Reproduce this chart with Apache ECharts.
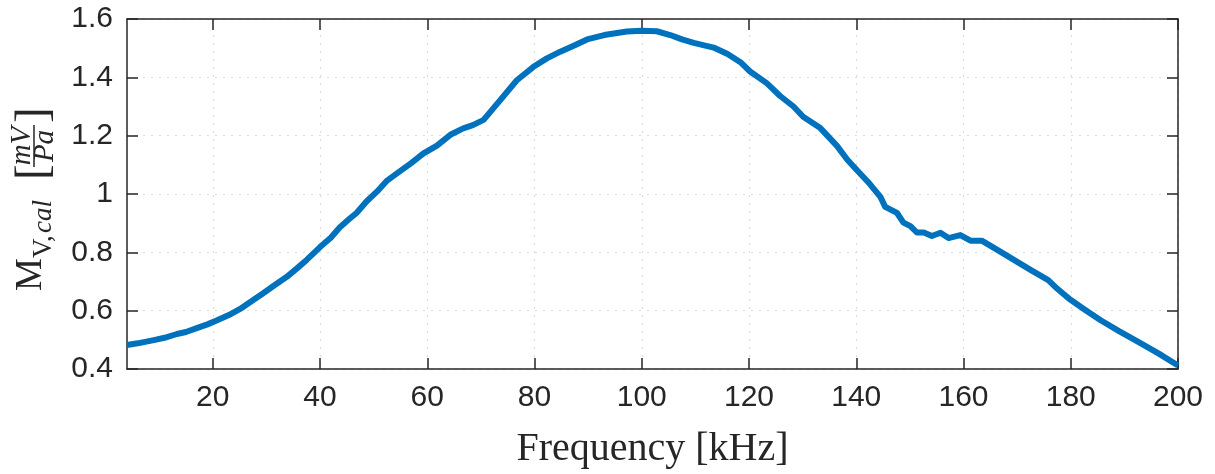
<!DOCTYPE html>
<html lang="en">
<head>
    <meta charset="UTF-8">
    <title>M_V,cal vs Frequency</title>
    <script src="https://cdn.jsdelivr.net/npm/echarts@6/dist/echarts.min.js"></script>
    <style>
        html, body { margin: 0; padding: 0; background: #fff; }
        #main { width: 1215px; height: 474px; }
    </style>
</head>
<body>
<div id="main"></div>
<script>
    // frequency in kHz
    var freq = [4, 6, 9, 11, 13.3, 15, 17, 19, 20.7, 23, 25.1, 27, 29.4, 31.5, 33.8, 35.7, 37.5, 40, 42, 43.7,
        45.5, 46.8, 48.7, 50.6, 52.5, 54.6, 57, 59.3, 61.8, 64.3, 66.7, 68.5, 70.5, 73.6, 76.7, 79.8, 82.3, 84.8,
        87.5, 89.8, 93, 97.2, 100, 102.8, 105.3, 107.5, 109.7, 113.4, 116, 118.4, 120.2, 123.3, 125.8, 128.3,
        130.1, 133.3, 136.4, 138.3, 140.1, 142.5, 144.5, 145.4, 147.6, 148.8, 150.1, 151.3, 152.6, 154.1, 155.7,
        157.2, 159.4, 161.3, 163.4, 166, 168.7, 172.5, 175.8, 177.5, 179.9, 182.5, 185.5, 189, 193, 196.5, 200];
    // sensitivity in mV/Pa
    var mv = [0.482, 0.488, 0.499, 0.507, 0.52, 0.527, 0.54, 0.553, 0.566, 0.585, 0.606, 0.63, 0.66, 0.687, 0.716, 0.745, 0.774, 0.818, 0.85, 0.886,
        0.915, 0.935, 0.975, 1.008, 1.046, 1.074, 1.106, 1.139, 1.166, 1.203, 1.225, 1.236, 1.254, 1.322, 1.39, 1.436, 1.465, 1.488,
        1.51, 1.53, 1.545, 1.557, 1.56, 1.558, 1.545, 1.53, 1.518, 1.502, 1.48, 1.452, 1.42, 1.38, 1.336, 1.3,
        1.265, 1.226, 1.165, 1.118, 1.082, 1.035, 0.99, 0.956, 0.935, 0.902, 0.89, 0.868, 0.868, 0.856, 0.867,
        0.849, 0.859, 0.84, 0.84, 0.812, 0.782, 0.74, 0.705, 0.675, 0.638, 0.605, 0.568, 0.53, 0.489, 0.452, 0.412];

    var xTicks = [20, 40, 60, 80, 100, 120, 140, 160, 180, 200];

    var txt = '#262626';
    var serif = '"Liberation Serif", "Times New Roman", serif';

    var myChart = echarts.init(document.getElementById('main'));

    function xAx(pos, labels) {
        return {
            type: 'value', position: pos, min: 4, max: 200,
            axisLine: { show: true, onZero: false, lineStyle: { color: txt, width: 1.5 } },
            axisTick: { show: true, inside: true, length: 11, customValues: xTicks, lineStyle: { color: txt, width: 1.5 } },
            axisLabel: { show: labels, customValues: xTicks, color: txt, fontFamily: '"Liberation Sans", Arial, sans-serif', fontSize: 30, margin: 14 },
            splitLine: { show: labels, customValues: xTicks, lineStyle: { color: '#dcdcdc', type: [2, 6], width: 1.2 } },
            name: labels ? 'Frequency [kHz]' : '',
            nameLocation: 'middle', nameGap: 60,
            nameTextStyle: { color: txt, fontFamily: serif, fontSize: 40 }
        };
    }
    function yAx(pos, labels) {
        return {
            type: 'value', position: pos, min: 0.4, max: 1.6, interval: 0.2,
            axisLine: { show: true, onZero: false, lineStyle: { color: txt, width: 1.5 } },
            axisTick: { show: true, inside: true, length: 11, lineStyle: { color: txt, width: 1.5 } },
            axisLabel: { show: labels, color: txt, fontFamily: '"Liberation Sans", Arial, sans-serif', fontSize: 30, margin: 14 },
            splitLine: { show: labels, lineStyle: { color: '#dcdcdc', type: [2, 6], width: 1.2 } }
        };
    }

    var data = freq.map(function (f, i) { return [f, mv[i]]; });

    var option = {
        backgroundColor: '#fff',
        animation: false,
        grid: { left: 127, right: 37, top: 19, bottom: 105 },
        xAxis: [xAx('bottom', true), xAx('top', false)],
        yAxis: [yAx('left', true), yAx('right', false)],
        series: [{
            type: 'line',
            data: data,
            showSymbol: false,
            lineStyle: { color: '#0072BD', width: 6, join: 'round' },
            itemStyle: { color: '#0072BD' }
        }],
        graphic: [{
            // rotated y-axis label: M_{V,cal} [mV/Pa]
            type: 'group', x: 38, y: 193, rotation: Math.PI / 2,
            children: [
                { type: 'text', x: -98, y: 12, style: { text: 'M', font: '37px ' + serif, fill: txt, textVerticalAlign: 'bottom' } },
                { type: 'text', x: -65, y: 19, style: { text: 'V,', font: '27px ' + serif, fill: txt, textVerticalAlign: 'bottom' } },
                { type: 'text', x: -40, y: 19, style: { text: 'cal', font: 'italic 27px ' + serif, fill: txt, textVerticalAlign: 'bottom' } },
                { type: 'text', x: 13, y: 20, style: { text: '[', font: '47px ' + serif, fill: txt, textVerticalAlign: 'bottom' } },
                { type: 'text', x: 47, y: -1.5, style: { text: 'mV', font: 'italic 29px ' + serif, fill: txt, textAlign: 'center', textVerticalAlign: 'bottom' } },
                { type: 'line', shape: { x1: 26, y1: -4, x2: 68, y2: -4 }, style: { stroke: txt, lineWidth: 1.5 } },
                { type: 'text', x: 47, y: 22, style: { text: 'Pa', font: 'italic 29px ' + serif, fill: txt, textAlign: 'center', textVerticalAlign: 'bottom' } },
                { type: 'text', x: 70, y: 20, style: { text: ']', font: '47px ' + serif, fill: txt, textVerticalAlign: 'bottom' } }
            ]
        }]
    };
    myChart.setOption(option);
</script>
</body>
</html>
